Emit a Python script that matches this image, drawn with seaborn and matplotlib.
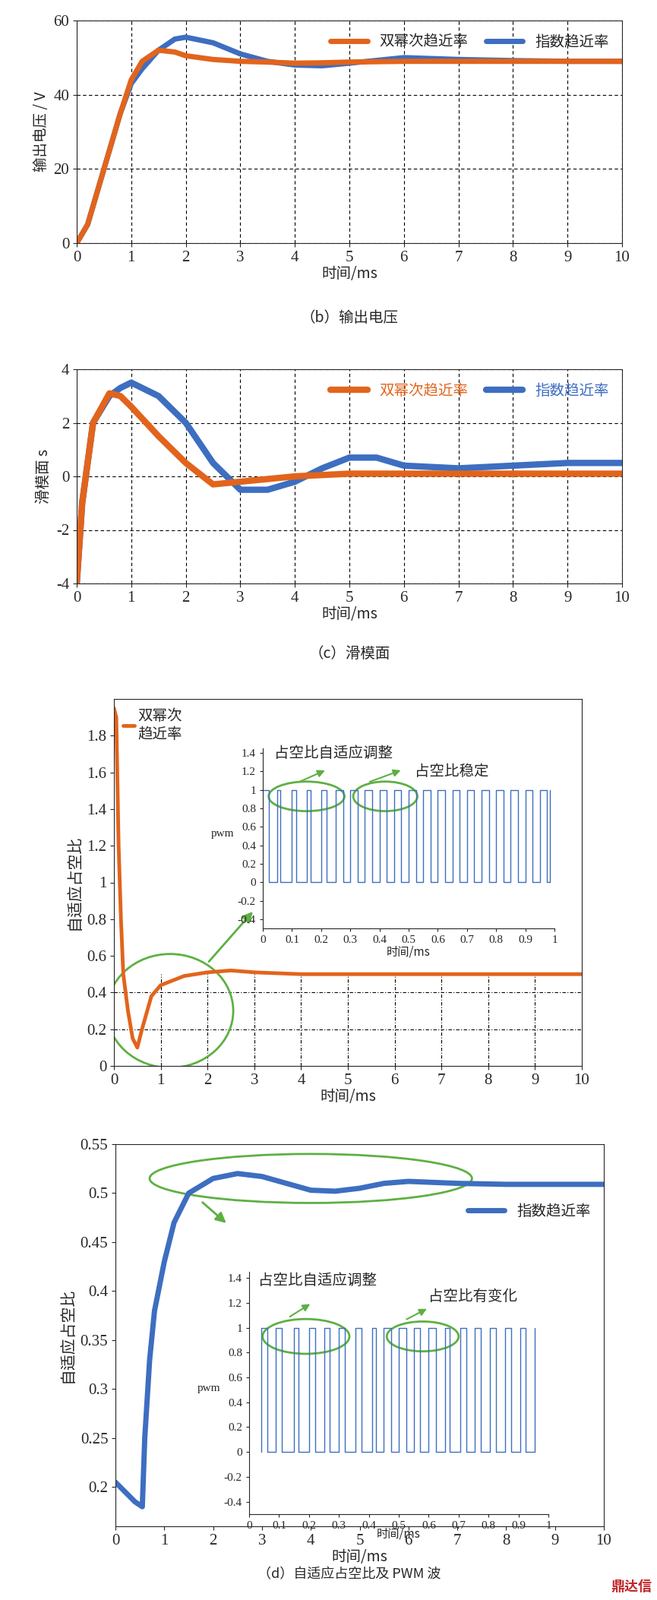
import numpy as np
import matplotlib
matplotlib.use("Agg")
import matplotlib.pyplot as plt
import seaborn as sns
from matplotlib.patches import Ellipse
from matplotlib import font_manager as fm

sns.set_style("ticks")
CJK = "Noto Sans CJK SC"
SERIF = "Liberation Serif"
plt.rcParams["font.family"] = "sans-serif"
plt.rcParams["font.sans-serif"] = [CJK, "Noto Sans CJK JP", "DejaVu Sans"]
plt.rcParams["axes.unicode_minus"] = False

ORANGE = "#E2641C"
BLUE = "#3D6EC0"
GREEN = "#5DB043"

# ---- data ----
v_t = [0, 0.2, 0.5, 0.8, 1.0, 1.2, 1.5, 1.8, 2.0, 2.5, 3, 3.5, 4, 4.5, 5, 6, 7, 8, 9, 10]
v_pow = [0, 5, 20, 35, 44, 49, 52, 51.5, 50.5, 49.5, 49, 48.8, 48.5, 48.6, 48.8, 49, 49, 49, 49, 49]
v_exp = [0, 5, 20, 35, 43, 47, 52, 55, 55.5, 54, 51, 49, 48, 47.8, 48.5, 50, 49.5, 49.2, 49, 49]

s_t = [0, 0.1, 0.3, 0.6, 0.8, 1.0, 1.5, 2.0, 2.5, 3, 3.5, 4, 4.5, 5, 5.5, 6, 7, 8, 9, 10]
s_pow = [-4, -1, 2, 3.1, 3.0, 2.6, 1.5, 0.5, -0.3, -0.2, -0.1, 0, 0.05, 0.1, 0.1, 0.1, 0.1, 0.1, 0.1, 0.1]
s_exp = [-4, -1, 2, 3.0, 3.3, 3.5, 3.0, 2.0, 0.5, -0.5, -0.5, -0.2, 0.3, 0.7, 0.7, 0.4, 0.3, 0.4, 0.5, 0.5]

d_t = [0, 0.05, 0.1, 0.15, 0.2, 0.3, 0.4, 0.5, 0.6, 0.8, 1.0, 1.5, 2.0, 2.5, 3, 4, 5, 6, 7, 8, 9, 10]
d_pow = [1.95, 1.9, 1.2, 0.8, 0.5, 0.3, 0.15, 0.1, 0.2, 0.38, 0.44, 0.49, 0.51, 0.52, 0.51, 0.50, 0.50, 0.50, 0.50, 0.50, 0.50, 0.50]

e_t = [0, 0.2, 0.4, 0.55, 0.6, 0.7, 0.8, 1.0, 1.2, 1.5, 2.0, 2.5, 3, 3.5, 4, 4.5, 5, 5.5, 6, 6.5, 7, 8, 9, 10]
e_exp = [0.205, 0.195, 0.185, 0.18, 0.25, 0.33, 0.38, 0.43, 0.47, 0.50, 0.515, 0.52, 0.517, 0.51, 0.503, 0.502, 0.505, 0.51, 0.512, 0.511, 0.51, 0.509, 0.509, 0.509]

# pwm pulses (rise time, fall time) in ms
pwm1_rise = [0.00, 0.05, 0.10, 0.15, 0.20, 0.25, 0.30, 0.35, 0.40, 0.45, 0.50, 0.55, 0.60, 0.65, 0.70, 0.75, 0.80, 0.85, 0.90, 0.95]
pwm1_fall = [0.02, 0.06, 0.115, 0.165, 0.22, 0.275, 0.325, 0.375, 0.425, 0.475, 0.525, 0.575, 0.625, 0.675, 0.725, 0.775, 0.825, 0.875, 0.925, 0.975]
pwm2_rise = [0.04, 0.09, 0.15, 0.20, 0.25, 0.30, 0.355, 0.41, 0.45, 0.50, 0.55, 0.60, 0.655, 0.705, 0.755, 0.805, 0.855, 0.905]
pwm2_fall = [0.06, 0.11, 0.165, 0.22, 0.27, 0.32, 0.375, 0.425, 0.475, 0.525, 0.57, 0.625, 0.67, 0.725, 0.775, 0.825, 0.875, 0.925]
pwm2_end = 0.955

W, H = 865, 2106
fig = plt.figure(figsize=(W / 100, H / 100), dpi=100)


def ax_at(l, r, t, b):
    return fig.add_axes([l / W, 1 - b / H, (r - l) / W, (b - t) / H])


def serif_ticks(ax, size):
    ax.tick_params(labelsize=size)
    for lab in ax.get_xticklabels() + ax.get_yticklabels():
        lab.set_fontfamily(SERIF)


def grid_dash(ax):
    ax.grid(True, color="black", linestyle=(0, (4, 3)), linewidth=0.8)


def pwm_path(rise, fall, start_high, end):
    xs, ys = [], []
    if start_high:
        xs, ys = [rise[0]], [1]
    else:
        xs, ys = [rise[0]], [0]
    for i, (r, f) in enumerate(zip(rise, fall)):
        xs += [r, r, f, f]
        ys += [0, 1, 1, 0]
    xs += [end, end]
    ys += [0, 1]
    if start_high:
        xs, ys = xs[2:], ys[2:]
        xs = [0] + xs
        ys = [1] + ys
    return xs, ys


# ---- panel 1 ----
ax1 = ax_at(101, 819, 27, 320)
sns.lineplot(x=v_t, y=v_exp, ax=ax1, color=BLUE, lw=5, label="指数趋近率")
sns.lineplot(x=v_t, y=v_pow, ax=ax1, color=ORANGE, lw=5, label="双幂次趋近率")
ax1.set_xlim(0, 10); ax1.set_ylim(0, 60)
ax1.set_xticks(range(11)); ax1.set_yticks([0, 20, 40, 60])
grid_dash(ax1)
ax1.set_xlabel("时间/ms", fontsize=14, labelpad=1)
ax1.set_ylabel("输出电压 / V", fontsize=14)
h, l = ax1.get_legend_handles_labels()
ax1.legend([h[1], h[0]], [l[1], l[0]], loc="upper right", ncol=2, frameon=False,
           fontsize=14, handlelength=2.5, columnspacing=1.2, borderaxespad=0.5)
serif_ticks(ax1, 15)
fig.text(460 / W, 1 - 418 / H, "（b）输出电压", ha="center", va="center", fontsize=14)

# ---- panel 2 ----
ax2 = ax_at(101, 819, 486, 768)
sns.lineplot(x=s_t, y=s_exp, ax=ax2, color=BLUE, lw=6, label="指数趋近率")
sns.lineplot(x=s_t, y=s_pow, ax=ax2, color=ORANGE, lw=6, label="双幂次趋近率")
ax2.set_xlim(0, 10); ax2.set_ylim(-4, 4)
ax2.set_xticks(range(11)); ax2.set_yticks([-4, -2, 0, 2, 4])
grid_dash(ax2)
ax2.set_xlabel("时间/ms", fontsize=14, labelpad=1)
ax2.set_ylabel("滑模面 s", fontsize=14)
h, l = ax2.get_legend_handles_labels()
leg = ax2.legend([h[1], h[0]], [l[1], l[0]], loc="upper right", ncol=2, frameon=False,
                 fontsize=14, handlelength=2.5, columnspacing=1.2, borderaxespad=0.5)
for txt, c in zip(leg.get_texts(), [ORANGE, BLUE]):
    txt.set_color(c)
serif_ticks(ax2, 15)
fig.text(460 / W, 1 - 860 / H, "（c）滑模面", ha="center", va="center", fontsize=14)

# ---- panel 3 ----
ax3 = ax_at(150, 766, 920, 1403)
sns.lineplot(x=d_t, y=d_pow, ax=ax3, color=ORANGE, lw=3.5, label="双幂次\n趋近率")
ax3.set_xlim(0, 10); ax3.set_ylim(0, 2)
ax3.set_xticks(range(11)); ax3.set_yticks(np.round(np.arange(0, 1.81, 0.2), 1))
ax3.set_yticklabels(["0", "0.2", "0.4", "0.6", "0.8", "1", "1.2", "1.4", "1.6", "1.8"])
for yv in [0.2, 0.4]:
    ax3.axhline(yv, color="black", ls=(0, (4, 2, 1, 2)), lw=0.8, zorder=1)
ax3.vlines(range(1, 10), 0, 0.5, color="black", ls=(0, (4, 2, 1, 2)), lw=0.8, zorder=1)
ax3.set_xlabel("时间/ms", fontsize=14, labelpad=1)
ax3.set_ylabel("自适应占空比", fontsize=15)
ax3.legend(loc="upper left", frameon=False, fontsize=14, handlelength=0.8,
           borderaxespad=0.2, handletextpad=0.2)
serif_ticks(ax3, 15)
ax3.add_patch(Ellipse((1.2, 0.3), 2.7, 0.62, fill=False, ec=GREEN, lw=2))
ax3.annotate("", xy=(3.0, 0.85), xytext=(2.0, 0.56),
             arrowprops=dict(arrowstyle="-|>", color=GREEN, lw=2, mutation_scale=20))

in3 = ax_at(346, 730, 985, 1222)
x1, y1 = pwm_path(pwm1_rise, pwm1_fall, True, 0.985)
sns.lineplot(x=x1, y=y1, ax=in3, color=BLUE, lw=1, sort=False, estimator=None)
in3.set_xlim(0, 1); in3.set_ylim(-0.5, 1.45)
in3.set_xticks(np.round(np.arange(0, 1.01, 0.1), 1))
in3.set_xticklabels(["0", "0.1", "0.2", "0.3", "0.4", "0.5", "0.6", "0.7", "0.8", "0.9", "1"])
in3.set_yticks(np.round(np.arange(-0.4, 1.41, 0.2), 1))
in3.set_yticklabels(["-0.4", "-0.2", "0", "0.2", "0.4", "0.6", "0.8", "1", "1.2", "1.4"])
serif_ticks(in3, 11)
in3.tick_params(length=3)
sns.despine(ax=in3)
in3.set_xlabel("时间/ms", fontsize=11, labelpad=0)
in3.set_ylabel("pwm", fontsize=11, rotation=0, labelpad=14, fontfamily=SERIF)
in3.patch.set_alpha(0)
in3.add_patch(Ellipse((0.15, 0.93), 0.26, 0.32, fill=False, ec=GREEN, lw=2))
in3.add_patch(Ellipse((0.42, 0.93), 0.22, 0.32, fill=False, ec=GREEN, lw=2))
in3.annotate("", xy=(0.22, 1.22), xytext=(0.12, 1.08),
             arrowprops=dict(arrowstyle="-|>", color=GREEN, lw=1.5, mutation_scale=14))
in3.annotate("", xy=(0.48, 1.22), xytext=(0.36, 1.08),
             arrowprops=dict(arrowstyle="-|>", color=GREEN, lw=1.5, mutation_scale=14))
in3.text(0.04, 1.4, "占空比自适应调整", fontsize=14, va="center", ha="left")
in3.text(0.52, 1.2, "占空比稳定", fontsize=14, va="center", ha="left")

# ---- panel 4 ----
ax4 = ax_at(152, 795, 1506, 2009)
sns.lineplot(x=e_t, y=e_exp, ax=ax4, color=BLUE, lw=5, label="指数趋近率")
ax4.set_xlim(0, 10); ax4.set_ylim(0.16, 0.55)
ax4.set_xticks(range(11))
ax4.set_yticks([0.2, 0.25, 0.3, 0.35, 0.4, 0.45, 0.5, 0.55])
ax4.set_yticklabels(["0.2", "0.25", "0.3", "0.35", "0.4", "0.45", "0.5", "0.55"])
ax4.set_xlabel("时间/ms", fontsize=14, labelpad=1)
ax4.set_ylabel("自适应占空比", fontsize=15)
ax4.legend(loc="upper right", bbox_to_anchor=(1.0, 0.88), frameon=False, fontsize=14, handlelength=2.5)
serif_ticks(ax4, 15)
ax4.add_patch(Ellipse((4.0, 0.515), 6.6, 0.05, fill=False, ec=GREEN, lw=2))
ax4.annotate("", xy=(2.3, 0.468), xytext=(1.75, 0.492),
             arrowprops=dict(arrowstyle="-|>", color=GREEN, lw=2, mutation_scale=20))

in4 = ax_at(328, 722, 1674, 1993)
x2, y2 = pwm_path(pwm2_rise, pwm2_fall, False, pwm2_end)
sns.lineplot(x=x2, y=y2, ax=in4, color=BLUE, lw=1, sort=False, estimator=None)
in4.set_xlim(0, 1); in4.set_ylim(-0.5, 1.45)
in4.set_xticks(np.round(np.arange(0, 1.01, 0.1), 1))
in4.set_xticklabels(["0", "0.1", "0.2", "0.3", "0.4", "0.5", "0.6", "0.7", "0.8", "0.9", "1"])
in4.set_yticks(np.round(np.arange(-0.4, 1.41, 0.2), 1))
in4.set_yticklabels(["-0.4", "-0.2", "0", "0.2", "0.4", "0.6", "0.8", "1", "1.2", "1.4"])
serif_ticks(in4, 11)
in4.tick_params(length=3)
sns.despine(ax=in4)
in4.set_xlabel("时间/ms", fontsize=11, labelpad=-3)
in4.set_ylabel("pwm", fontsize=11, rotation=0, labelpad=14, fontfamily=SERIF)
in4.patch.set_alpha(0)
in4.add_patch(Ellipse((0.19, 0.93), 0.29, 0.28, fill=False, ec=GREEN, lw=2))
in4.add_patch(Ellipse((0.58, 0.93), 0.24, 0.24, fill=False, ec=GREEN, lw=2))
in4.annotate("", xy=(0.21, 1.2), xytext=(0.13, 1.08),
             arrowprops=dict(arrowstyle="-|>", color=GREEN, lw=1.5, mutation_scale=14))
in4.annotate("", xy=(0.6, 1.16), xytext=(0.52, 1.06),
             arrowprops=dict(arrowstyle="-|>", color=GREEN, lw=1.5, mutation_scale=14))
in4.text(0.03, 1.38, "占空比自适应调整", fontsize=14, va="center", ha="left")
in4.text(0.6, 1.25, "占空比有变化", fontsize=14, va="center", ha="left")

fig.text(460 / W, 1 - 2072 / H, "（d）自适应占空比及 PWM 波", ha="center", va="center", fontsize=13)
fig.text(858 / W, 1 - 2088 / H, "鼎达信", ha="right", va="center", fontsize=13, color="#C0282D", fontweight="bold")

fig.savefig("out.png", dpi=100)
